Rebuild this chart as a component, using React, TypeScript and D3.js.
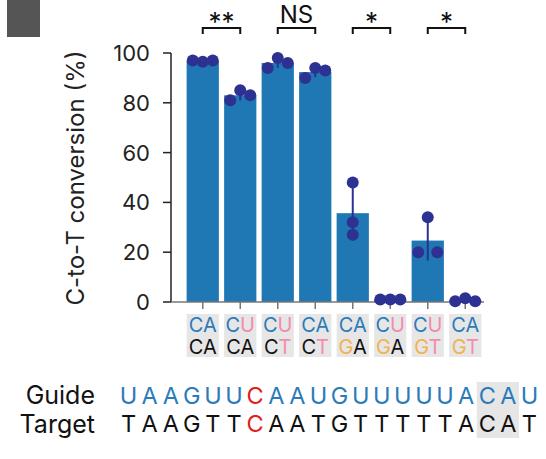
import React from 'react';
import * as d3 from 'd3';

const guideLabels = ['CA', 'CU', 'CU', 'CA', 'CA', 'CU', 'CU', 'CA'];
const targetLabels = ['CA', 'CA', 'CT', 'CT', 'GA', 'GA', 'GT', 'GT'];
const rep1 = [97, 81, 94, 90, 48, 1, 34, 0.3];
const rep2 = [96.5, 85, 98, 94, 32, 1, 20, 1.5];
const rep3 = [97, 83, 96, 93, 27, 1, 20, 0.3];
const yTicks = [0, 20, 40, 60, 80, 100];
const sigPairs: [number, number, string][] = [
  [0, 1, '**'],
  [2, 3, 'NS'],
  [4, 5, '*'],
  [6, 7, '*'],
];
const guideSeq = 'UAAGUUCAAUGUUUUUACAU';
const targetSeq = 'TAAGTTCAATGTTTTTACAT';
const highlightIndex = 6;
const boxIndices = [17, 18];

const FONT = 'Inter, "Noto Sans", sans-serif';
const BAR = '#1f77b4';
const DOT = '#2d3191';
const BLUE = '#2b7bb9';
const PINK = '#f28cb1';
const ORANGE = '#f2b24f';
const RED = '#e0201b';

const guideColor = (c: string) => (c === 'U' ? PINK : BLUE);
const targetColor = (c: string) => (c === 'T' ? PINK : c === 'G' ? ORANGE : '#111');

export default function App() {
  const W = 546, H = 459;
  const idx = guideLabels.map((_, i) => i);
  const x = d3.scaleBand<number>().domain(idx).range([184, 484]).paddingInner(0.14).paddingOuter(0.07);
  const y = d3.scaleLinear().domain([0, 100]).range([302, 53]);
  const bw = x.bandwidth();
  const reps = idx.map(i => [rep1[i], rep2[i], rep3[i]]);
  const means = reps.map(r => d3.mean(r) as number);
  const sds = reps.map(r => d3.deviation(r) as number);

  // simple beeswarm: clusters of close values spread horizontally
  const dotPos = reps.map((vals, i) => {
    const cx = (x(i) as number) + bw / 2;
    const order = vals.map((v, j) => j).sort((a, b) => vals[a] - vals[b]);
    const clusters: number[][] = [];
    order.forEach(j => {
      const last = clusters[clusters.length - 1];
      if (last && Math.abs(y(vals[last[last.length - 1]]) - y(vals[j])) < 11) last.push(j);
      else clusters.push([j]);
    });
    const off = new Array(vals.length).fill(0);
    clusters.forEach(c => {
      const members = [...c].sort((a, b) => a - b);
      const n = members.length;
      members.forEach((j, k) => {
        off[j] = n === 2 ? (k === 0 ? -9.5 : 9.5) : (k - (n - 1) / 2) * 10;
      });
    });
    return vals.map((v, j) => ({ cx: cx + off[j], cy: y(v) }));
  });

  const seqX = (i: number) => 118 + (i + 0.5) * 21.1;

  return (
    <svg width={W} height={H} style={{ display: 'block', position: 'absolute', left: 0, top: 0 }} fontFamily={FONT}>
      <rect x={7} y={0} width={33} height={37} fill="#555" />
      {/* y axis */}
      <line x1={171} x2={171} y1={y(100)} y2={y(0)} stroke="#222" strokeWidth={1.5} />
      {yTicks.map(t => (
        <g key={t}>
          <line x1={163} x2={171} y1={y(t)} y2={y(t)} stroke="#222" strokeWidth={1.5} />
          <text x={150} y={y(t)} dy="0.36em" textAnchor="end" fontSize={22} fill="#222">{t}</text>
        </g>
      ))}
      <text transform={`translate(75,178) rotate(-90)`} textAnchor="middle" dy="0.36em" fontSize={24} fill="#222">
        C-to-T conversion (%)
      </text>
      {/* bars */}
      {idx.map(i => (
        <rect key={i} x={x(i)} y={y(means[i])} width={bw} height={y(0) - y(means[i])} fill={BAR} />
      ))}
      {/* x axis */}
      <line x1={171} x2={484} y1={y(0)} y2={y(0)} stroke="#777" strokeWidth={1.5} />
      {idx.map(i => (
        <line key={i} x1={(x(i) as number) + bw / 2} x2={(x(i) as number) + bw / 2} y1={y(0)} y2={y(0) + 7} stroke="#777" strokeWidth={1.5} />
      ))}
      {/* error bars */}
      {idx.map(i => (
        <line key={i} x1={(x(i) as number) + bw / 2} x2={(x(i) as number) + bw / 2}
          y1={y(means[i] + sds[i])} y2={y(Math.max(0, means[i] - sds[i]))} stroke={DOT} strokeWidth={2} />
      ))}
      {/* dots */}
      {dotPos.map((pts, i) => pts.map((p, j) => (
        <circle key={`${i}-${j}`} cx={p.cx} cy={p.cy} r={6} fill={DOT} />
      )))}
      {/* significance */}
      {sigPairs.map(([a, b, lab], k) => {
        const x1 = (x(a) as number) + bw / 2;
        const x2 = (x(b) as number) + bw / 2;
        const isStar = lab.includes('*');
        return (
          <g key={k}>
            <path d={`M${x1},34V28H${x2}V34`} fill="none" stroke="#111" strokeWidth={2} />
            <text x={(x1 + x2) / 2} y={isStar ? 31 : 23} textAnchor="middle" fontSize={isStar ? 26 : 24} fill="#111">{lab}</text>
          </g>
        );
      })}
      {/* column labels */}
      {idx.map(i => (
        <g key={i}>
          <rect x={x(i)} y={314} width={bw} height={43} fill="#e6e6e6" />
          <text x={(x(i) as number) + bw / 2} y={332} textAnchor="middle" fontSize={20}>
            {guideLabels[i].split('').map((c, k) => <tspan key={k} fill={guideColor(c)}>{c}</tspan>)}
          </text>
          <text x={(x(i) as number) + bw / 2} y={354} textAnchor="middle" fontSize={20}>
            {targetLabels[i].split('').map((c, k) => <tspan key={k} fill={targetColor(c)}>{c}</tspan>)}
          </text>
        </g>
      ))}
      {/* sequences */}
      <rect x={seqX(boxIndices[0]) - 10.5} y={382} width={21.1 * boxIndices.length} height={56} fill="#e6e6e6" />
      <text x={95} y={404} textAnchor="end" fontSize={25} fill="#111">Guide</text>
      <text x={95} y={433} textAnchor="end" fontSize={25} fill="#111">Target</text>
      {guideSeq.split('').map((c, i) => (
        <text key={'g' + i} x={seqX(i)} y={404} textAnchor="middle" fontSize={23.5} fill={i === highlightIndex ? RED : BLUE}>{c}</text>
      ))}
      {targetSeq.split('').map((c, i) => (
        <text key={'t' + i} x={seqX(i)} y={432} textAnchor="middle" fontSize={23.5} fill={i === highlightIndex ? RED : '#111'}>{c}</text>
      ))}
    </svg>
  );
}
